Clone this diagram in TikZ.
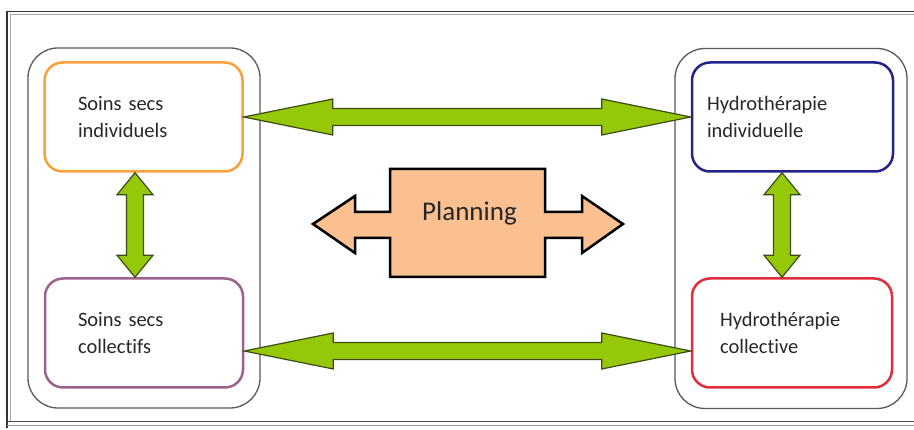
\documentclass[tikz,border=0pt]{standalone}
\usepackage{fontspec}
\setmainfont{Carlito}[Ligatures={NoCommon}]
\usetikzlibrary{calc}
\definecolor{gfill}{RGB}{150,200,10}
\definecolor{gline}{RGB}{60,75,20}
\definecolor{pfill}{RGB}{250,192,144}
\definecolor{corange}{RGB}{248,160,60}
\definecolor{cpurple}{RGB}{130,60,110}
\definecolor{cblue}{RGB}{35,35,140}
\definecolor{cred}{RGB}{225,45,60}
\definecolor{ctext}{RGB}{40,40,40}
\tikzset{
  container/.style={draw=black!65, line width=1.3pt, rounded corners=30pt, minimum width=232pt, minimum height=360pt, inner sep=0pt},
  careBox/.style={line width=2.5pt, rounded corners=18pt, minimum width=198pt, minimum height=109pt, inner sep=0pt, align=left, text=ctext, font=\fontsize{20.5}{27}\selectfont},
  greenarrow/.style={fill=gfill, draw=gline, line width=1.2pt, line join=miter},
}
\newcommand\gArrowH[2]{%
  \path[greenarrow] let \p1=(#1), \p2=(#2) in
    (\x1,\y1) -- (\x1+89pt,\y1+18pt) -- (\x1+89pt,\y1+8.5pt) -- (\x2-89pt,\y1+8.5pt) -- (\x2-89pt,\y1+18pt)
    -- (\x2,\y1) -- (\x2-89pt,\y1-18pt) -- (\x2-89pt,\y1-8.5pt) -- (\x1+89pt,\y1-8.5pt) -- (\x1+89pt,\y1-18pt) -- cycle;}
\newcommand\gArrowV[2]{%
  \path[greenarrow] let \p1=(#1), \p2=(#2) in
    (\x1,\y1) -- (\x1+18pt,\y1-22pt) -- (\x1+8.5pt,\y1-22pt) -- (\x1+8.5pt,\y2+22pt) -- (\x1+18pt,\y2+22pt)
    -- (\x1,\y2) -- (\x1-18pt,\y2+22pt) -- (\x1-8.5pt,\y2+22pt) -- (\x1-8.5pt,\y1-22pt) -- (\x1-18pt,\y1-22pt) -- cycle;}
\begin{document}
\begin{tikzpicture}[x=1pt,y=-1pt]
\useasboundingbox (0,0) rectangle (914,430);
\fill[white] (0,0) rectangle (914,430);
% outer frame
\draw[black!80, line width=1.6pt] (7,428) -- (7,11.5) -- (916,11.5);
\draw[black!35, line width=1pt] (10,421) -- (10,14.5) -- (916,14.5);
\draw[black!70, line width=1.2pt] (7,421.5) -- (916,421.5);
\draw[black!40, line width=1pt] (7,426) -- (916,426);
% containers
\node[container] (leftC) at (144,228) {};
\node[container] (rightC) at (791,228.5) {};
% boxes
\node[careBox, draw=corange, text width=131pt] (orange) at (143.5,117) {Soins secs\\individuels};
\node[careBox, draw=cpurple!80, text width=132pt] (purple) at (144,333) {Soins secs\\collectifs};
\node[careBox, draw=cblue, minimum width=201pt, text width=171pt] (blue) at (792.5,117) {Hydrothérapie\\individuelle};
\node[careBox, draw=cred, minimum width=200pt, text width=144pt] (red) at (792,333) {Hydrothérapie\\collective};
% green arrows
\gArrowH{orange.east}{blue.west}
\gArrowH{$(purple.east)+(0,18)$}{$(red.west)+(0,18)$}
\gArrowV{$(orange.south)+(-8.5,0)$}{$(purple.north)+(-8.5,0)$}
\gArrowV{$(blue.south)+(-10.5,0)$}{$(red.north)+(-10.5,0)$}
% planning
\coordinate (pc) at (467.5,223);
\path[fill=pfill, draw=black, line width=2.5pt, line join=miter]
  ($(pc)+(-154.5,1)$) -- ($(pc)+(-112.5,-27)$) -- ($(pc)+(-112.5,-11)$) -- ($(pc)+(-77.5,-11)$)
  -- ($(pc)+(-77.5,-54)$) -- ($(pc)+(77.5,-54)$) -- ($(pc)+(77.5,-11)$) -- ($(pc)+(114.5,-11)$)
  -- ($(pc)+(114.5,-27)$) -- ($(pc)+(155.5,1)$) -- ($(pc)+(114.5,30)$) -- ($(pc)+(114.5,15)$)
  -- ($(pc)+(77.5,15)$) -- ($(pc)+(77.5,54)$) -- ($(pc)+(-77.5,54)$) -- ($(pc)+(-77.5,15)$)
  -- ($(pc)+(-112.5,15)$) -- ($(pc)+(-112.5,30)$) -- cycle;
\node[text=black!85, font=\fontsize{27}{32}\selectfont, inner sep=0pt] (plan) at ($(pc)+(2,-10)$) {Planning};
\end{tikzpicture}
\end{document}
